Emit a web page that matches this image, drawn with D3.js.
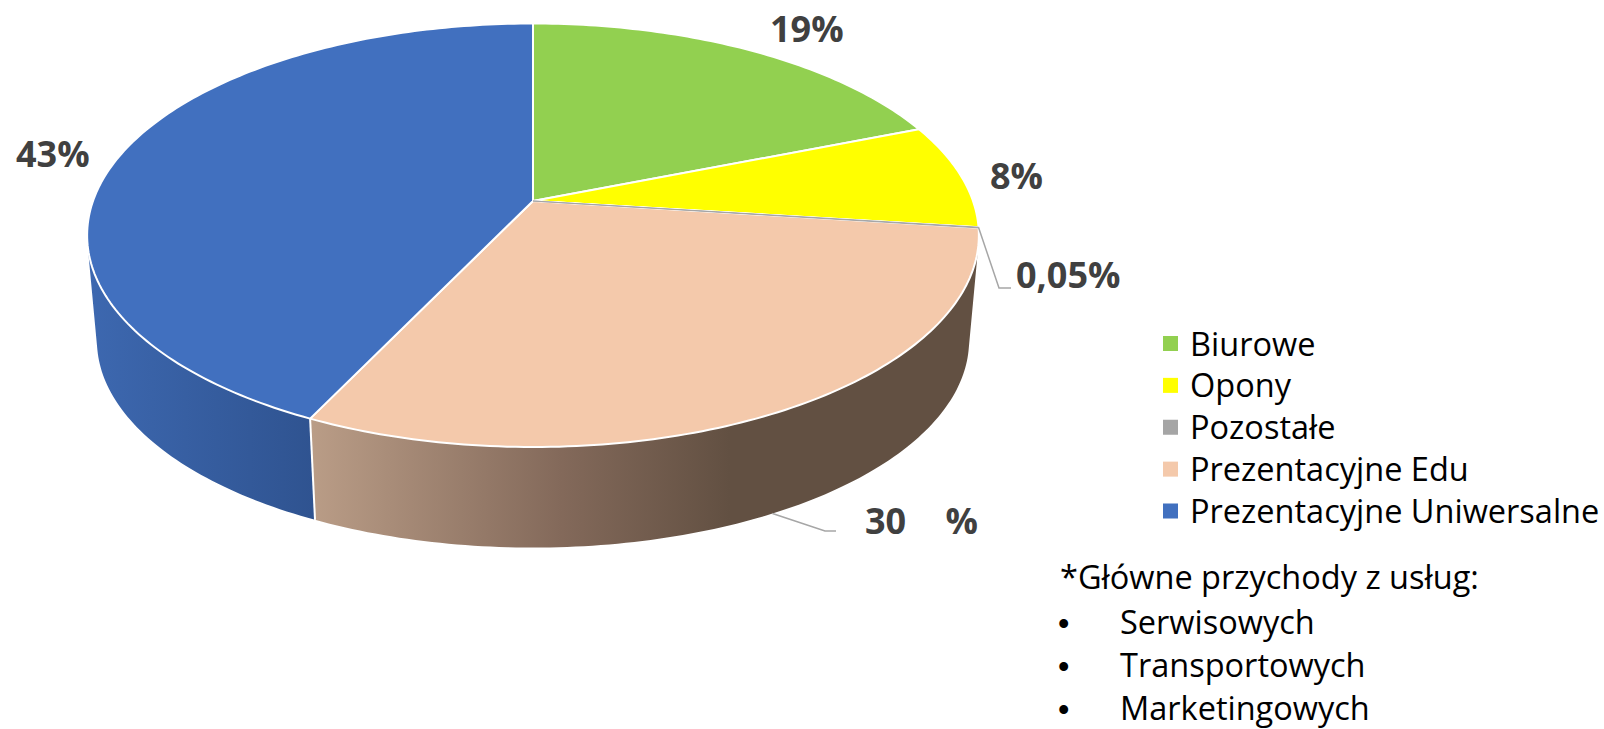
<!DOCTYPE html>
<html lang="pl">

<head>
  <meta charset="UTF-8" />
  <title>Przychody</title>
  <script src="https://d3js.org/d3.v7.min.js"></script>
  <style>
    body {
      margin: 0;
      background: #fff;
    }

    svg {
      display: block;
      font-family: "Open Sans", sans-serif;
    }

    .label {
      font-size: 36px;
      font-weight: 700;
      fill: #404040;
      white-space: pre;
      word-spacing: 0.5px;
    }

    .legend text,
    .note,
    .bullet {
      font-size: 32.5px;
      fill: #000;
    }

    .bullet {
      font-family: "Liberation Sans", sans-serif;
    }

    .leader {
      fill: none;
      stroke: #a6a6a6;
      stroke-width: 1.5px;
    }
  </style>
</head>

<body>
  <svg width="1604" height="729"></svg>

  <script>
    const categories = ["Biurowe", "Opony", "Pozostałe", "Prezentacyjne Edu", "Prezentacyjne Uniwersalne"];
    const shares = [19, 8, 0.05, 30.1, 42.9];
    const shareLabels = ["19%", "8%", "0,05%", "30    %", "43%"];
    const colors = ["#92d050", "#ffff00", "#a5a5a5", "#f4c9ab", "#4170bf"];
    const noteTitle = "*Główne przychody z usług:";
    const noteItems = ["Serwisowych", "Transportowych", "Marketingowych"];

    const svg = d3.select("svg");

    // perspective of the pie: c is the foreshortening of the disc
    const cx = 533, cy = 201;
    const c = 0.1618, kx = 440, ky = 206.2;
    const bottomScale = 0.978, bottomY = 307;

    function project(angle, bottom) {
      const u = Math.sin(angle), v = Math.cos(angle);
      const w = 1 + c * v;
      const s = bottom ? bottomScale : 1;
      return [cx + s * kx * u / w, (bottom ? bottomY : cy) - s * ky * v / w];
    }

    const line = d3.line();
    const pie = d3.pie().sort(null).value(d => d)(shares);

    function rimAngles(d) {
      const n = Math.max(2, Math.ceil((d.endAngle - d.startAngle) * 60));
      return d3.range(n + 1).map(i => d.startAngle + (d.endAngle - d.startAngle) * i / n);
    }

    function rim(d, bottom) {
      return rimAngles(d).map(a => project(a, bottom));
    }

    // the wall of a slice is the sweep of its rim, only the faces turned to the viewer
    function wall(d) {
      const a = rimAngles(d);
      return d3.pairs(a)
        .map(([a0, a1]) => [project(a0, false), project(a1, false), project(a1, true), project(a0, true)])
        .filter(q => d3.polygonArea(q) > 0)
        .map(q => line(q) + "Z")
        .join("");
    }

    // side shading
    const defs = svg.append("defs");

    function sideGradient(id, x1, x2, stops) {
      defs.append("linearGradient")
        .attr("id", id)
        .attr("gradientUnits", "userSpaceOnUse")
        .attr("x1", x1).attr("x2", x2).attr("y1", 0).attr("y2", 0)
        .selectAll("stop")
        .data(stops)
        .join("stop")
        .attr("offset", d => d[0])
        .attr("stop-color", d => d[1]);
    }
    sideGradient("side-edu", 310, 730, [[0, "#ba9d87"], [0.6, "#83695a"], [1, "#625042"]]);
    sideGradient("side-uni", 87, 315, [[0, "#3d68b0"], [1, "#2f5390"]]);

    const sideFill = ["#6f9e3e", "#bfbf00", "#7c7c7c", "url(#side-edu)", "url(#side-uni)"];

    svg.append("g").selectAll("path")
      .data(pie)
      .join("path")
      .attr("d", wall)
      .attr("fill", (d, i) => sideFill[i]);

    // white seam where the two front walls meet
    svg.append("g").selectAll("path")
      .data(pie.filter(d => Math.cos(d.startAngle) < -0.5))
      .join("path")
      .attr("d", d => line([project(d.startAngle, false), project(d.startAngle, true)]))
      .attr("stroke", "#fff")
      .attr("stroke-width", 2);

    const disc = svg.append("g");
    disc.selectAll("path")
      .data(pie)
      .join("path")
      .attr("d", d => line([[cx, cy]].concat(rim(d, false))) + "Z")
      .attr("fill", (d, i) => colors[i])
      .attr("stroke", "#fff")
      .attr("stroke-width", 2)
      .attr("stroke-linejoin", "round");

    // the tiny slice would vanish under its white border
    disc.append("path")
      .attr("d", line([[cx, cy]].concat(rim(pie[2], false))) + "Z")
      .attr("fill", colors[2])
      .attr("stroke", colors[2])
      .attr("stroke-width", 1);

    // leader lines
    const midAngle = d => (d.startAngle + d.endAngle) / 2;
    svg.append("path").attr("class", "leader")
      .attr("d", line([project(midAngle(pie[2]), false), [999, 288], [1011, 288]]));
    svg.append("path").attr("class", "leader")
      .attr("d", line([project(midAngle(pie[3]), true), [825, 531], [836, 531]]));

    // data labels
    const labelAnchors = [[770, 42], [990, 189], [1016, 288], [865, 534], [16, 167]];
    svg.append("g").selectAll("text")
      .data(shareLabels)
      .join("text")
      .attr("class", "label")
      .attr("x", (d, i) => labelAnchors[i][0])
      .attr("y", (d, i) => labelAnchors[i][1])
      .text(d => d);

    // legend
    const legendY = d3.scalePoint().domain(categories).range([343.5, 511]);
    const legend = svg.append("g").attr("class", "legend")
      .selectAll("g")
      .data(categories)
      .join("g")
      .attr("transform", d => `translate(1163,${legendY(d)})`);
    legend.append("rect")
      .attr("y", -7.5).attr("width", 15).attr("height", 15)
      .attr("fill", (d, i) => colors[i]);
    legend.append("text")
      .attr("x", 27).attr("y", 12)
      .text(d => d);

    // note under the legend
    svg.append("text").attr("class", "note").attr("x", 1060).attr("y", 589).text(noteTitle);
    const noteY = d3.scalePoint().domain(noteItems).range([634, 720]);
    svg.append("g").selectAll("text")
      .data(noteItems)
      .join("text")
      .attr("class", "note")
      .attr("x", 1120)
      .attr("y", d => noteY(d))
      .text(d => d);
    svg.append("g").selectAll("text")
      .data(noteItems)
      .join("text")
      .attr("class", "bullet")
      .attr("x", 1058)
      .attr("y", d => noteY(d) + 1)
      .text("•");
  </script>
</body>

</html>
